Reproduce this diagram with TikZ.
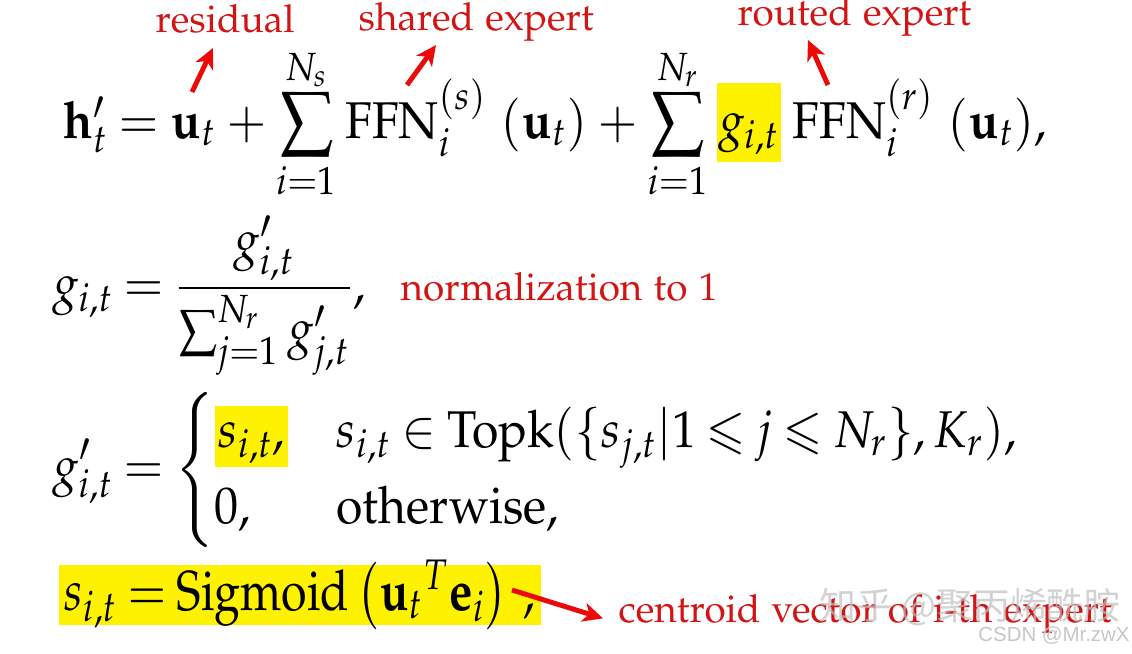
\documentclass[tikz,border=0pt]{standalone}
\usepackage{amsmath,amssymb}
\usepackage{mathpazo}
\usepackage[no-math]{fontspec}
\newfontfamily\cjkfont{Noto Sans CJK SC}
\newfontfamily\wmfont{Liberation Sans}
\usetikzlibrary{arrows.meta}
\newcommand\palfont{\fontencoding{OT1}\fontfamily{pplx}\selectfont}
\newcommand\eqsize{\palfont\fontsize{14.7}{18}\selectfont\thickmuskip=4mu plus 1mu}
\newcommand\bigeqsize{\palfont\fontsize{16}{19}\selectfont\thickmuskip=4mu plus 1mu}
\newcommand\notesize{\palfont\fontsize{11}{13}\selectfont}
\definecolor{notered}{RGB}{210,20,20}
\definecolor{arrowred}{RGB}{235,10,10}
\colorlet{hl}{yellow}
\begin{document}
\begin{tikzpicture}[x=0.01cm,y=-0.01cm,
    eq/.style={inner sep=0pt,anchor=base west,xscale=0.93,font=\eqsize},
    note/.style={inner sep=0pt,anchor=base west,text=notered,font=\notesize},
    hilite/.style={fill=hl},
    notearrow/.style={arrowred,line width=1.4pt,-{Stealth[length=5.7pt,width=5.4pt,inset=1.6pt]}}]
    \useasboundingbox (0,0) rectangle (1132,654);
    \node[eq] (hlhs) at (62,138) {$\mathbf{h}'_t = {}$};
    \node[eq] (ut) at (hlhs.base east) {$\mathbf{u}_t$};
    \node[eq] (sums) at (ut.base east) {$\displaystyle {}+\sum_{i=1}^{N_s}$};
    \node[eq] (ffns) at (sums.base east) {$\,\mathrm{FFN}_i^{(s)}\ (\mathbf{u}_t)$};
    \node[eq] (sumr) at (ffns.base east) {$\displaystyle {}+\sum_{i=1}^{N_r}\,$};
    \node[eq,hilite,inner xsep=0.5pt,text height=15.6pt,text depth=6.8pt] (g) at (sumr.base east) {$g_{i,t}$};
    \node[eq] (ffnr) at (g.base east) {$\;\mathrm{FFN}_i^{(r)}\ (\mathbf{u}_t),$};
    \node[note] (residual) at (155,32) {residual};
    \node[note] (shared) at (358,30) {shared expert};
    \node[note] (routed) at (737,25) {routed expert};
    \coordinate (restail) at (192,92);
    \coordinate (shatail) at (407,85);
    \coordinate (routail) at (828,85);
    \draw[notearrow] (restail) -- ([shift={(58,16)}]residual.base west);
    \draw[notearrow] (shatail) -- ([shift={(78,15)}]shared.base west);
    \draw[notearrow] (routail) -- ([shift={(71,15)}]routed.base west);
    \node[eq] (gdef) at (52,301) {$\displaystyle g_{i,t} = \frac{g'_{i,t}}{\sum_{j=1}^{N_r} g'_{j,t}},$};
    \node[note] (norm) at (400,300) {normalization to 1};
    \node[eq] (gpdef) at (52,483) {$\displaystyle g'_{i,t} = \begin{cases}
        \setlength\fboxsep{1pt}\colorbox{hl}{\rule[-1pt]{0pt}{11.8pt}$s_{i,t},$} & s_{i,t} \in \mathrm{Topk}(\{s_{j,t}|1 \leqslant j \leqslant N_r\}, K_r),\\
        0, & \text{otherwise,}
    \end{cases}$};
    \node[eq,hilite,xscale=0.89,font=\bigeqsize,inner xsep=2pt,text height=12.8pt,text depth=4.3pt] (sdef) at (58,610) {$s_{i,t} = \mathrm{Sigmoid}\left(\mathbf{u}_t{}^{T}\mathbf{e}_i\right)\,,$};
    \node[note] (centroid) at (618,622) {centroid vector of i-th expert};
    \coordinate (centail) at (512,590);
    \draw[notearrow] (centail) -- ([shift={(-15,5)}]centroid.west);
    \node[text=gray!50,opacity=0.7,inner sep=0pt,font=\cjkfont\fontsize{10.5}{12}\selectfont] (zhihu) at (970,607) {知乎 @聚丙烯酰胺};
    \node[text=gray!45,inner sep=0pt,font=\wmfont\fontsize{5.8}{7}\selectfont] (csdn) at (1054,636) {CSDN @Mr.zwX};
\end{tikzpicture}
\end{document}
